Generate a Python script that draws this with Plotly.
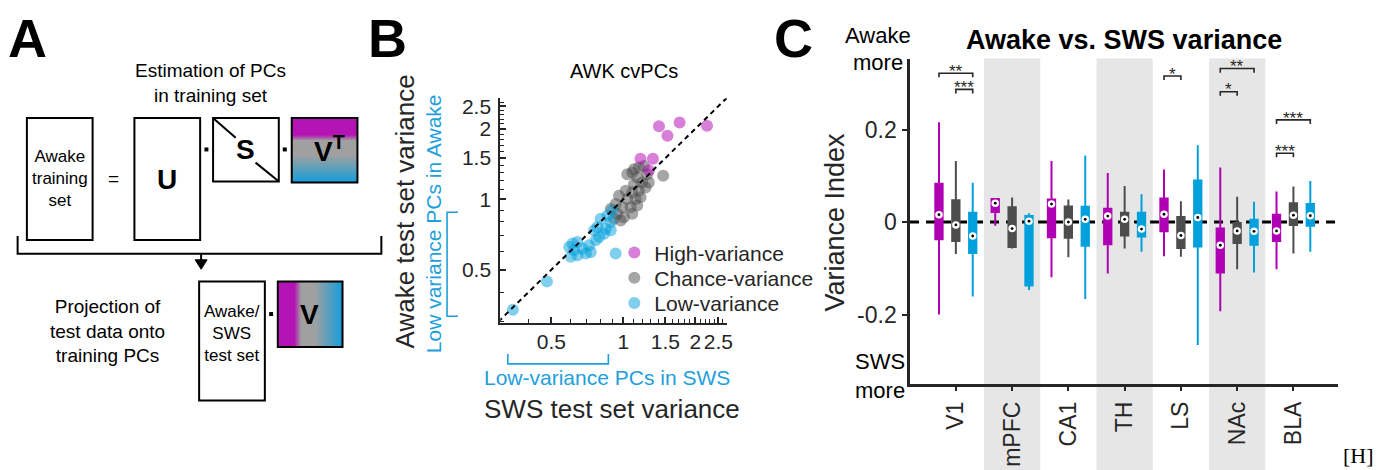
import plotly.graph_objects as go

W, H = 1390, 470
FONT = "Liberation Sans, Arial, Helvetica, sans-serif"
SERIF = "Liberation Serif, Times New Roman, serif"
DARK = "#262626"
MAG = "#B000B4"
GRY = "#4D4D4D"
BLU = "#00A0DC"
TXT_BLUE = "#1EA0DC"

# ---------------- Panel B data (AWK cvPCs) ----------------
high_x = [1.41, 1.72, 2.24, 1.53, 1.18, 1.33, 1.28]
high_y = [2.05, 2.13, 2.06, 1.87, 1.49, 1.49, 1.33]

chance_x = [1.468, 1.09, 1.162, 1.219, 1.259, 1.144, 1.108, 1.20, 1.279, 1.023,
            1.09, 1.162, 1.239, 0.959, 1.039, 1.126, 1.181, 0.929, 0.99, 1.073,
            1.144, 0.886, 0.944, 1.006, 1.09, 0.975, 0.914, 1.039, 1.108]
chance_y = [1.26, 1.30, 1.366, 1.389, 1.28, 1.24, 1.161, 1.18, 1.18, 1.088,
            1.071, 1.088, 1.124, 1.036, 1.003, 1.003, 1.02, 0.955, 0.925, 0.925,
            0.94, 0.91, 0.867, 0.839, 0.867, 0.812, 0.825, 1.28, 1.345]

low_x = [0.858, 0.804, 0.886, 0.779, 0.844, 0.755, 0.792, 0.831, 0.886, 0.767,
         0.613, 0.643, 0.594, 0.675, 0.623, 0.719, 0.731, 0.697, 0.643, 0.603,
         0.929, 0.90, 0.479, 0.345]
low_y = [0.853, 0.825, 0.799, 0.761, 0.749, 0.737, 0.69, 0.713, 0.737, 0.668,
         0.647, 0.657, 0.626, 0.616, 0.606, 0.636, 0.596, 0.587, 0.577, 0.568,
         0.587, 0.895, 0.445, 0.3375]

identity = [0.30, 2.71]
b_tickvals = [0.5, 1, 1.5, 2, 2.5]
b_ticktext = ["0.5", "1", "1.5", "2", "2.5"]
b_minor = [0.3, 0.4, 0.6, 0.7, 0.8, 0.9, 1.1, 1.2, 1.3, 1.4, 1.6, 1.7, 1.8, 1.9,
           2.1, 2.2, 2.3, 2.4, 2.6, 2.7]

# ---------------- Panel C data (Variance Index) ----------------
regions = ["V1", "mPFC", "CA1", "TH", "LS", "NAc", "BLA"]

high_lo = [-0.200, -0.008, -0.119, -0.111, -0.074, -0.193, -0.102]
high_q1 = [-0.037, 0.022, -0.033, -0.048, -0.020, -0.109, -0.041]
high_med = [0.016, 0.041, 0.039, 0.013, 0.017, -0.050, -0.019]
high_q3 = [0.083, 0.050, 0.049, 0.029, 0.051, -0.014, 0.016]
high_hi = [0.216, 0.050, 0.132, 0.106, 0.114, 0.118, 0.066]

chance_lo = [-0.069, -0.057, -0.076, -0.057, -0.075, -0.102, -0.068]
chance_q1 = [-0.041, -0.054, -0.034, -0.029, -0.056, -0.045, -0.006]
chance_med = [-0.006, -0.014, 0.000, 0.006, -0.029, -0.019, 0.015]
chance_q3 = [0.047, 0.032, 0.034, 0.020, 0.011, -0.002, 0.041]
chance_hi = [0.132, 0.053, 0.049, 0.078, 0.045, 0.055, 0.077]

low_lo = [-0.161, -0.147, -0.166, -0.064, -0.266, -0.109, -0.064]
low_q1 = [-0.067, -0.137, -0.051, -0.031, -0.053, -0.049, -0.008]
low_med = [-0.030, 0.002, 0.006, -0.015, 0.010, -0.020, 0.014]
low_q3 = [0.020, 0.013, 0.033, 0.020, 0.090, 0.005, 0.039]
low_hi = [0.085, 0.019, 0.144, 0.060, 0.166, 0.044, 0.089]

sig_region = [1, 1, 5, 6, 6, 7, 7]
sig_from = ["high", "chance", "high", "high", "high", "high", "high"]
sig_to = ["low", "low", "chance", "low", "chance", "low", "chance"]
sig_y = [0.322, 0.287, 0.316, 0.332, 0.282, 0.221, 0.149]
sig_label = ["**", "***", "*", "**", "*", "***", "***"]

c_tickvals = [-0.2, 0, 0.2]
c_ticktext = ["-0.2", "0", "0.2"]
shaded_regions = [2, 4, 6]

# gradient ramp for the diagram boxes in panel A
grad = [0.0, 0.1, 0.2, 0.3, 0.4, 0.5, 0.6, 0.7, 0.8, 0.9, 1.0]
grad_scale = [[0, "#B414B4"], [0.22, "#B414B4"], [0.33, "#A0A0A0"],
              [0.58, "#A0A0A0"], [1, "#1E9ED8"]]

group_offset = {"high": -0.3, "chance": 0.0, "low": 0.3}


def px(x):
    return x / W


def py(y):
    return 1 - y / H


def rect(x0, y0, x1, y1, width=2, color="black", fill=None, layer="above"):
    d = dict(type="rect", xref="paper", yref="paper", x0=px(x0), x1=px(x1),
             y0=py(y1), y1=py(y0), line=dict(color=color, width=width), layer=layer)
    if fill:
        d["fillcolor"] = fill
    return d


def pline(points, color="black", width=2, closed=False, fill=None):
    s = "M " + " L ".join(f"{px(a):.5f},{py(b):.5f}" for a, b in points)
    if closed:
        s += " Z"
    d = dict(type="path", xref="paper", yref="paper", path=s,
             line=dict(color=color, width=width))
    if fill:
        d["fillcolor"] = fill
    return d


def text(t, x, y, size, color="black", bold=False, angle=0, family=FONT,
         xanchor="center"):
    if bold:
        t = f"<b>{t}</b>"
    return dict(text=t, x=px(x), y=py(y), xref="paper", yref="paper",
                showarrow=False, xanchor=xanchor, yanchor="middle",
                textangle=angle, font=dict(size=size, color=color, family=family))


fig = go.Figure()

# ---------------- Panel B traces ----------------
fig.add_trace(go.Scatter(x=chance_x, y=chance_y, mode="markers", name="Chance-variance",
                         marker=dict(size=12, color="rgba(77,77,77,0.5)", line=dict(width=0)),
                         legend="legend2", xaxis="x", yaxis="y", hoverinfo="skip"))
fig.add_trace(go.Scatter(x=low_x, y=low_y, mode="markers", name="Low-variance",
                         marker=dict(size=12, color="rgba(0,160,220,0.5)", line=dict(width=0)),
                         legend="legend3", xaxis="x", yaxis="y", hoverinfo="skip"))
fig.add_trace(go.Scatter(x=high_x, y=high_y, mode="markers", name="High-variance",
                         marker=dict(size=12, color="rgba(176,0,180,0.5)", line=dict(width=0)),
                         legend="legend", xaxis="x", yaxis="y", hoverinfo="skip"))
fig.add_trace(go.Scatter(x=identity, y=identity, mode="lines", showlegend=False,
                         line=dict(color="black", width=2, dash="5px,4px"),
                         xaxis="x", yaxis="y", hoverinfo="skip"))

# ---------------- Panel C traces ----------------
groups = [
    ("high", MAG, high_lo, high_q1, high_med, high_q3, high_hi),
    ("chance", GRY, chance_lo, chance_q1, chance_med, chance_q3, chance_hi),
    ("low", BLU, low_lo, low_q1, low_med, low_q3, low_hi),
]
for name, color, lo, q1, med, q3, hi in groups:
    pos = [i + 1 + group_offset[name] for i in range(len(regions))]
    fig.add_trace(go.Box(x=pos, q1=q1, median=med, q3=q3, lowerfence=lo, upperfence=hi,
                         orientation="v", fillcolor=color, line=dict(color=color, width=2),
                         width=0.13, whiskerwidth=0, boxpoints=False, showlegend=False,
                         xaxis="x2", yaxis="y2", hoverinfo="skip"))
for name, color, lo, q1, med, q3, hi in groups:
    pos = [i + 1 + group_offset[name] for i in range(len(regions))]
    fig.add_trace(go.Scatter(x=pos, y=med, mode="markers", showlegend=False,
                             marker=dict(size=7.5, color="white", line=dict(width=0)),
                             xaxis="x2", yaxis="y2", hoverinfo="skip"))
    fig.add_trace(go.Scatter(x=pos, y=med, mode="markers", showlegend=False,
                             marker=dict(size=2.8, color="black", line=dict(width=0)),
                             xaxis="x2", yaxis="y2", hoverinfo="skip"))

# ---------------- Panel A gradient boxes ----------------
fig.add_trace(go.Heatmap(z=[[g, g] for g in grad], colorscale=grad_scale, zmin=0, zmax=1,
                         zsmooth="best", showscale=False, xaxis="x3", yaxis="y3",
                         hoverinfo="skip"))
fig.add_trace(go.Heatmap(z=[grad, grad], colorscale=grad_scale, zmin=0, zmax=1,
                         zsmooth="best", showscale=False, xaxis="x4", yaxis="y4",
                         hoverinfo="skip"))

shapes = []
annotations = []

# ---------------- Panel A diagram ----------------
shapes += [
    rect(27, 115, 93, 238),
    rect(135, 115, 201, 238),
    rect(214, 115, 280, 179),
    pline([(214.5, 115.5), (236.7, 135)]),
    pline([(256.7, 160), (279.5, 178.5)]),
    rect(293, 115, 359, 180),
    pline([(17.7, 234), (17.7, 252), (383, 252), (383, 234)]),
    pline([(202, 252), (202, 260)]),
    pline([(196, 258), (208, 258), (202, 267.5)], closed=True, fill="black", width=1),
    rect(200, 280, 266, 400),
    rect(279, 280, 344, 346),
    rect(205.3, 144.7, 209.3, 148.7, width=0, fill="black"),
    rect(284, 144.7, 288, 148.7, width=0, fill="black"),
    rect(270.3, 310.7, 274.3, 314.7, width=0, fill="black"),
]
annotations += [
    text("A", 28, 34, 54, bold=True),
    text("Estimation of PCs<br>in training set", 211, 79.5, 19),
    text("Awake<br>training<br>set", 60, 175.5, 17),
    text("=", 114, 176, 19),
    text("U", 168, 177, 28, bold=True),
    text("S", 247, 147, 28, bold=True),
    text("V<sup>T</sup>", 331, 146, 28, bold=True),
    text("Projection of<br>test data onto<br>training PCs", 108, 330, 19),
    text("Awake/<br>SWS<br>test set", 233, 332, 17),
    text("V", 311, 313, 28, bold=True),
]

# ---------------- Panel B decorations ----------------
shapes += [
    pline([(460, 210), (449, 210), (449, 315), (460, 315)], color=TXT_BLUE, width=1.6),
    pline([(510, 353), (510, 363), (611, 363), (611, 353)], color=TXT_BLUE, width=1.6),
]
annotations += [
    text("B", 389, 34, 54, bold=True),
    text("AWK cvPCs", 627, 68, 20, color="black"),
    text("Awake test set variance", 407, 209, 26, color=DARK, angle=-90),
    text("Low variance PCs in Awake", 435, 222, 21, color=TXT_BLUE, angle=-90),
    text("Low-variance PCs in SWS", 610, 377, 21, color=TXT_BLUE),
    text("SWS test set variance", 615, 408, 26, color=DARK),
]

# ---------------- Panel C decorations ----------------
for r in shaded_regions:
    shapes.append(dict(type="rect", xref="x2", yref="paper", x0=r - 0.5, x1=r + 0.5,
                       y0=0, y1=py(55), fillcolor="#E6E6E6", line=dict(width=0),
                       layer="below"))
shapes.append(dict(type="line", xref="x2 domain", yref="y2", x0=0, x1=1, y0=0, y1=0,
                   line=dict(color="black", width=3, dash="9px,7px"), layer="below"))
drop = 0.0088
for reg, a, b, yv, lab in zip(sig_region, sig_from, sig_to, sig_y, sig_label):
    xa = reg + group_offset[a]
    xb = reg + group_offset[b]
    shapes.append(dict(type="path", xref="x2", yref="y2",
                       path=f"M {xa},{yv - drop} L {xa},{yv} L {xb},{yv} L {xb},{yv - drop}",
                       line=dict(color=DARK, width=1.6)))
    annotations.append(dict(text=lab, x=(xa + xb) / 2, y=yv + 0.004, xref="x2", yref="y2",
                            showarrow=False, xanchor="center", yanchor="middle",
                            font=dict(size=17, color=DARK, family=FONT)))
annotations += [
    text("C", 797, 34, 54, bold=True),
    text("Awake vs. SWS variance", 1129, 36, 27, bold=True),
    text("Awake", 882, 32, 22),
    text("more", 882, 59, 22),
    text("SWS", 884, 361, 22),
    text("more", 884, 390, 22),
    text("Variance Index", 839, 220, 27, color=DARK, angle=-90),
    text("[H]", 1364, 455, 22, family=SERIF),
]

axis_common = dict(showgrid=False, zeroline=False, fixedrange=True)
legend_common = dict(xanchor="left", yanchor="middle", bgcolor="rgba(0,0,0,0)",
                     borderwidth=0, font=dict(size=21, color=DARK, family=FONT))

fig.update_layout(
    width=W, height=H,
    margin=dict(l=0, r=0, t=0, b=0),
    paper_bgcolor="white", plot_bgcolor="rgba(0,0,0,0)",
    font=dict(family=FONT, color=DARK),
    xaxis=dict(domain=[px(502.5), px(730)], type="log", range=[-0.5146, 0.4333],
               anchor="y", showline=True, linecolor=DARK, linewidth=2,
               ticks="inside", ticklen=6, tickwidth=1.5, tickcolor=DARK,
               tickvals=b_tickvals, ticktext=b_ticktext, tickangle=0,
               tickfont=dict(size=21, color=DARK, family=FONT), ticklabelstandoff=-1,
               minor=dict(tickvals=b_minor, ticks="inside", ticklen=3.5,
                          tickcolor=DARK, tickwidth=1.2, showgrid=False),
               **axis_common),
    yaxis=dict(domain=[py(321.5), py(95)], type="log", range=[-0.5275, 0.432],
               anchor="x", showline=True, linecolor=DARK, linewidth=2,
               ticks="inside", ticklen=6, tickwidth=1.5, tickcolor=DARK,
               tickvals=b_tickvals, ticktext=b_ticktext,
               tickfont=dict(size=21, color=DARK, family=FONT), ticklabelstandoff=3,
               minor=dict(tickvals=b_minor, ticks="inside", ticklen=3.5,
                          tickcolor=DARK, tickwidth=1.2, showgrid=False),
               **axis_common),
    xaxis2=dict(domain=[px(914), px(1344)], range=[0.186, 7.796], anchor="y2",
                showline=True, linecolor=DARK, linewidth=2.5,
                ticks="outside", ticklen=5, tickwidth=2, tickcolor=DARK,
                tickvals=list(range(1, len(regions) + 1)), ticktext=regions,
                tickangle=-90, tickfont=dict(size=23, color=DARK, family=FONT),
                ticklabelstandoff=1, **axis_common),
    yaxis2=dict(domain=[py(383), py(55)], range=[-0.3495, 0.3537], anchor="x2",
                showline=True, linecolor=DARK, linewidth=2.5,
                ticks="outside", ticklen=5, tickwidth=2, tickcolor=DARK,
                tickvals=c_tickvals, ticktext=c_ticktext,
                tickfont=dict(size=23, color=DARK, family=FONT),
                ticklabelstandoff=1, **axis_common),
    xaxis3=dict(domain=[px(293), px(359)], anchor="y3", visible=False, **axis_common),
    yaxis3=dict(domain=[py(180), py(115)], anchor="x3", visible=False,
                autorange="reversed", **axis_common),
    xaxis4=dict(domain=[px(279), px(344)], anchor="y4", visible=False, **axis_common),
    yaxis4=dict(domain=[py(346), py(280)], anchor="x4", visible=False, **axis_common),
    legend=dict(x=px(617), y=py(251), **legend_common),
    legend2=dict(x=px(617), y=py(276.5), **legend_common),
    legend3=dict(x=px(617), y=py(302), **legend_common),
    shapes=shapes,
    annotations=annotations,
)

fig.write_html("out.html")
